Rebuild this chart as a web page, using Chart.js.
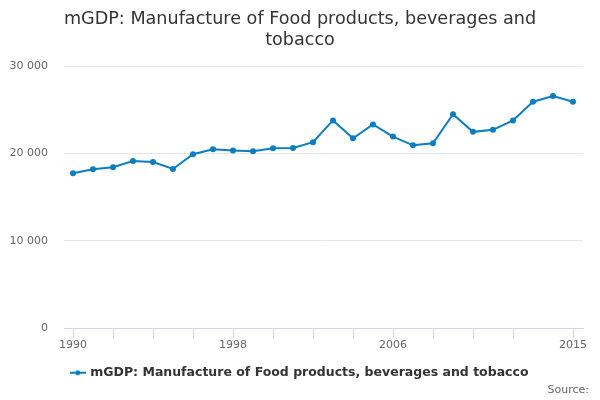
<!DOCTYPE html>
<html lang="en">
<head>
<meta charset="UTF-8">
<title>mGDP: Manufacture of Food products, beverages and tobacco</title>
<style>
  body { margin: 0; background: #ffffff; }
  #wrap { width: 600px; height: 400px; position: relative; }
</style>
</head>
<body>
<div id="wrap"><canvas id="chart" width="600" height="400"></canvas></div>
<script src="https://cdn.jsdelivr.net/npm/chart.js"></script>
<script>
// chart data
const years = [1990, 1991, 1992, 1993, 1994, 1995, 1996, 1997, 1998, 1999, 2000, 2001, 2002,
               2003, 2004, 2005, 2006, 2007, 2008, 2009, 2010, 2011, 2012, 2013, 2014, 2015];
const values = [17740, 18200, 18430, 19160, 19040, 18240, 19920, 20500, 20350, 20270, 20610, 20650, 21300,
                23800, 21760, 23330, 21950, 20950, 21180, 24500, 22490, 22720, 23800, 25940, 26590, 25940];
const labelYears = [1990, 1998, 2006, 2015];
const tickYears = [1990, 1992, 1994, 1996, 1998, 2000, 2002, 2004, 2006, 2008, 2010, 2012, 2015];
const yTicks = [0, 10000, 20000, 30000];

const seriesName = 'mGDP: Manufacture of Food products, beverages and tobacco';
const lineColor = '#0a7ec2';

// legend symbol: short line with a dot in the middle
const legendSymbol = document.createElement('canvas');
legendSymbol.width = 16;
legendSymbol.height = 8;
(function () {
  const c = legendSymbol.getContext('2d');
  c.strokeStyle = lineColor;
  c.lineWidth = 2;
  c.beginPath();
  c.moveTo(0, 4);
  c.lineTo(16, 4);
  c.stroke();
  c.fillStyle = lineColor;
  c.beginPath();
  c.arc(8, 4, 2.5, 0, Math.PI * 2);
  c.fill();
})();

const formatThousands = (v) => String(v).replace(/\B(?=(\d{3})+(?!\d))/g, ' ');

// "Source:" credit in the bottom right corner
const sourcePlugin = {
  id: 'sourceText',
  afterDraw(chart) {
    const ctx = chart.ctx;
    ctx.save();
    ctx.font = '11px "DejaVu Sans"';
    ctx.fillStyle = '#666666';
    ctx.textAlign = 'right';
    ctx.textBaseline = 'middle';
    ctx.fillText('Source:', 589, 390);
    ctx.restore();
  }
};

new Chart(document.getElementById('chart'), {
  type: 'line',
  data: {
    datasets: [{
      label: seriesName,
      data: years.map((y, i) => ({ x: y, y: values[i] })),
      borderColor: lineColor,
      backgroundColor: lineColor,
      borderWidth: 2,
      pointRadius: 2,
      pointHoverRadius: 3,
      tension: 0,
      fill: false
    }]
  },
  options: {
    responsive: false,
    animation: false,
    devicePixelRatio: 1,
    layout: { padding: { left: 0, right: 0, top: 0, bottom: 11 } },
    scales: {
      x: {
        type: 'linear',
        min: 1989.55,
        max: 2015.5,
        afterBuildTicks: (axis) => { axis.ticks = tickYears.map(v => ({ value: v })); },
        ticks: {
          autoSkip: false,
          maxRotation: 0,
          color: '#666666',
          font: { family: 'DejaVu Sans', size: 11 },
          padding: 0,
          callback: (v) => labelYears.includes(v) ? String(v) : ''
        },
        grid: {
          drawOnChartArea: false,
          drawTicks: true,
          tickLength: 10,
          tickColor: '#ccd6eb'
        },
        border: { color: '#ccd6eb', width: 1 }
      },
      y: {
        min: 0,
        max: 30000,
        afterBuildTicks: (axis) => { axis.ticks = yTicks.map(v => ({ value: v })); },
        afterFit: (axis) => { axis.width = 64; },
        ticks: {
          color: '#666666',
          font: { family: 'DejaVu Sans', size: 11 },
          padding: 16,
          callback: (v) => formatThousands(v)
        },
        grid: { color: '#e6e6e6', drawTicks: false },
        border: { display: false }
      },
      // empty axis on the right, only to keep the right margin of the plot
      yRight: {
        position: 'right',
        display: true,
        afterFit: (axis) => { axis.width = 17; },
        ticks: { display: false },
        grid: { display: false },
        border: { display: false }
      }
    },
    plugins: {
      title: {
        display: true,
        text: ['mGDP: Manufacture of Food products, beverages and', 'tobacco'],
        color: '#333333',
        font: { family: 'DejaVu Sans', size: 17.6, weight: 'normal', lineHeight: 1.2 },
        padding: { top: 9, bottom: 15 }
      },
      legend: {
        position: 'bottom',
        labels: {
          color: '#333333',
          font: { family: 'DejaVu Sans', size: 12.5, weight: 'bold' },
          usePointStyle: true,
          padding: 15,
          generateLabels: (chart) => Chart.defaults.plugins.legend.labels.generateLabels(chart)
            .map(l => Object.assign(l, { pointStyle: legendSymbol }))
        }
      },
      tooltip: { enabled: false }
    }
  },
  plugins: [sourcePlugin]
});
</script>
</body>
</html>
